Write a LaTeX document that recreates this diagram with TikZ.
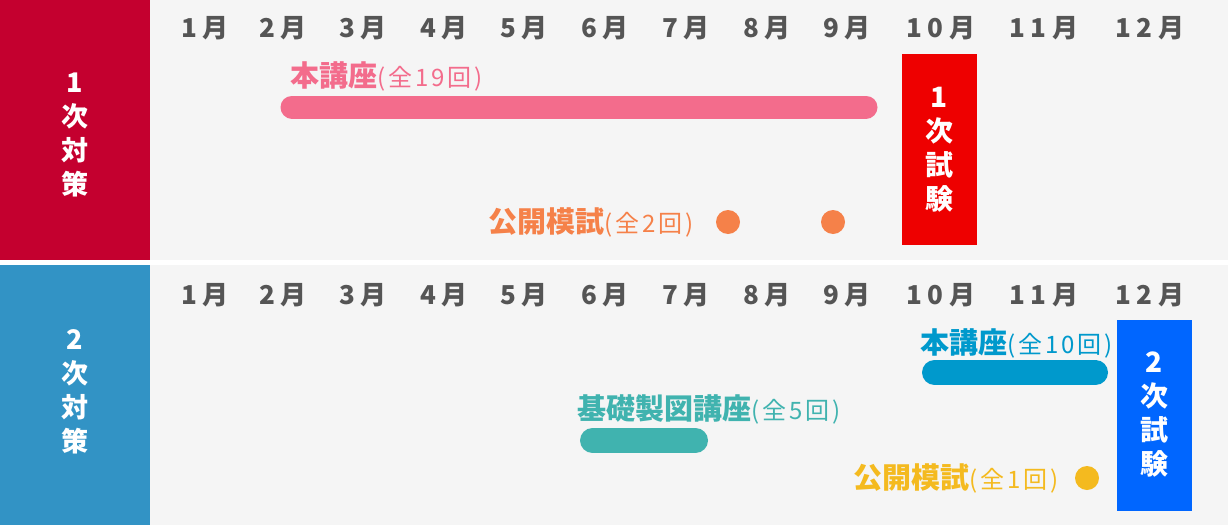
\documentclass[tikz,border=0pt]{standalone}
\usepackage{fontspec}
\usepackage{xcolor}
\setmainfont{Noto Sans CJK JP}
\newfontfamily\jpmonth{Noto Sans CJK JP}[LetterSpace=20]
\newfontfamily\jpcount{Noto Sans CJK JP}[LetterSpace=12]
\usepackage{tikz}

\definecolor{panelgray}{HTML}{F5F5F5}
\definecolor{monthgray}{HTML}{555555}
\definecolor{bandred}{HTML}{C4002F}
\definecolor{bandblue}{HTML}{3293C5}
\definecolor{examred}{HTML}{EE0000}
\definecolor{examblue}{HTML}{0066FF}
\definecolor{coursepink}{HTML}{F36C8C}
\definecolor{mockorange}{HTML}{F58149}
\definecolor{courseblue}{HTML}{0099CC}
\definecolor{courseteal}{HTML}{40B3AF}
\definecolor{mockyellow}{HTML}{F4BA1F}

\tikzset{
  month/.style={text=monthgray,inner sep=0pt,font=\jpmonth\bfseries\fontsize{26}{26}\selectfont},
  sidetext/.style={text=white,align=center,inner sep=0pt,font=\bfseries\fontsize{27}{34}\selectfont},
  exambox/.style={text=white,align=center,inner sep=0pt,minimum width=75pt,minimum height=191pt,font=\bfseries\fontsize{28}{34}\selectfont},
  course/.style={anchor=west,inner sep=0pt,font=\bfseries\fontsize{29}{29}\selectfont},
  bar/.style={line cap=round}
}
\newcommand{\sessions}[1]{{\jpcount\mdseries\fontsize{24}{24}\selectfont(#1)}}

\begin{document}
\begin{tikzpicture}[x=1pt,y=-1pt]
			\useasboundingbox (0,0) rectangle (1228,525);
			\fill[white] (0,0) rectangle (1228,525);
			% 1st stage panel
			\fill[panelgray] (150,0) rectangle (1228,260);
			\fill[bandred] (0,0) rectangle (150,260);
			\node[sidetext] (side1) at (75,135) {1\\次\\対\\策};
			\foreach \m/\x in {1/205,2/283,3/363,4/444,5/524,6/605,7/686,8/767,9/847,10/941,11/1044,12/1150}
				\node[month] (ma\m) at (\x,28) {\m{}月};
			\node[course,text=coursepink] (main1) at (290,76) {本講座\sessions{全19回}};
			\draw[bar,coursepink,line width=23pt] (292,107) -- (866,107);
			\node[course,text=mockorange,anchor=east] (mock1) at (694,222) {公開模試\sessions{全2回}};
			\fill[mockorange] (728,222) circle (12);
			\fill[mockorange] (833,222) circle (12);
			\node[exambox,fill=examred] (exam1) at (939.5,149.5) {1\\次\\試\\験};
			% 2nd stage panel
			\fill[panelgray] (150,265) rectangle (1228,525);
			\fill[bandblue] (0,265) rectangle (150,525);
			\node[sidetext] (side2) at (75,392) {2\\次\\対\\策};
			\foreach \m/\x in {1/205,2/283,3/363,4/444,5/524,6/605,7/686,8/767,9/847,10/941,11/1044,12/1150}
				\node[month] (mb\m) at (\x,295) {\m{}月};
			\node[course,text=courseblue] (main2) at (920,343) {本講座\sessions{全10回}};
			\draw[bar,courseblue,line width=25pt] (934.5,372.5) -- (1095.5,372.5);
			\node[course,text=courseteal] (basic2) at (577,409) {基礎製図講座\sessions{全5回}};
			\draw[bar,courseteal,line width=25pt] (592.5,440.5) -- (695.5,440.5);
			\node[course,text=mockyellow,anchor=east] (mock2) at (1059,478) {公開模試\sessions{全1回}};
			\fill[mockyellow] (1087,478) circle (12);
			\node[exambox,fill=examblue] (exam2) at (1154.5,415) {2\\次\\試\\験};
\end{tikzpicture}
\end{document}
